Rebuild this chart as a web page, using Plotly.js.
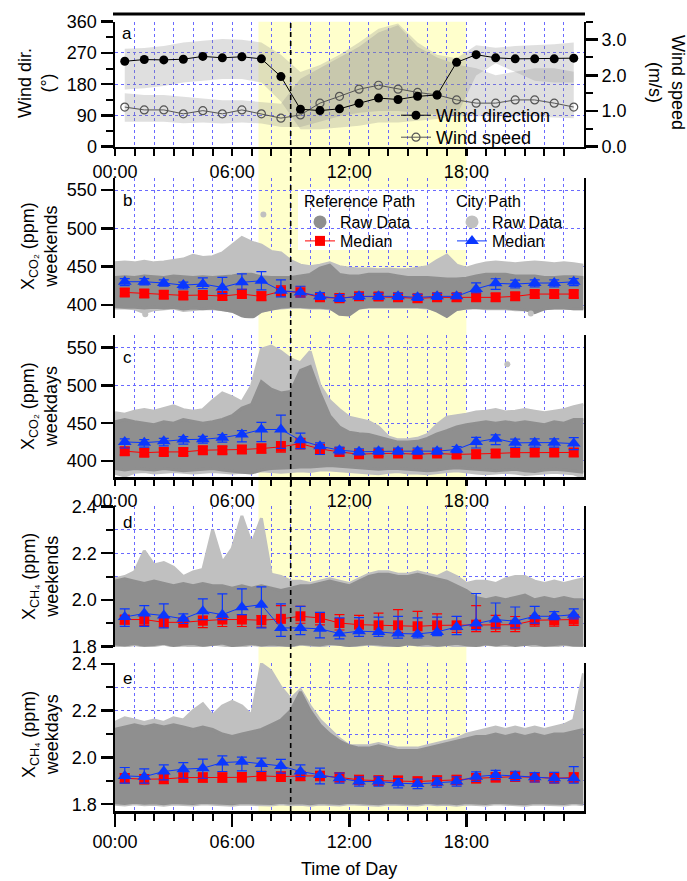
<!DOCTYPE html>
<html><head><meta charset="utf-8">
<script src="https://cdn.plot.ly/plotly-3.0.1.min.js"></script>
<style>html,body{margin:0;padding:0;background:#fff}#chart{width:687px;height:881px}</style>
</head><body><div id="chart"></div>
<script>
// ---------- data ----------
const hours = [0.5,1.5,2.5,3.5,4.5,5.5,6.5,7.5,8.5,9.5,10.5,11.5,12.5,13.5,14.5,15.5,16.5,17.5,18.5,19.5,20.5,21.5,22.5,23.5];
const envHours = [0,0.5,1,1.5,2,2.5,3,3.5,4,4.5,5,5.5,6,6.5,7,7.5,8,8.5,9,9.5,10,10.5,11,11.5,12,12.5,13,13.5,14,14.5,15,15.5,16,16.5,17,17.5,18,18.5,19,19.5,20,20.5,21,21.5,22,22.5,23,23.5,24];
const hourLabelVals = [0,6,12,18];
const hourLabels = ['00:00','06:00','12:00','18:00'];
const minorHours = [1,2,3,4,5,7,8,9,10,11,13,14,15,16,17,19,20,21,22,23];
const daylightStart = 7.35, daylightEnd = 18, refTime = 9;

// panel a: wind
const windDir   = [246,251,250,252,260,256,259,253,202,108,104,109,125,140,136,145,149,243,265,256,253,253,253,255];
const windSpeed = [1.11,1.03,1.03,0.92,1.01,0.92,1.03,0.92,0.80,0.89,1.22,1.41,1.61,1.72,1.61,1.52,1.45,1.31,1.22,1.22,1.31,1.31,1.22,1.11];
const dirBandUp  = [282,284,290,300,305,310,308,300,265,215,235,265,300,340,355,300,265,255,292,285,290,292,295,300];
const dirBandLow = [165,168,175,185,190,195,195,185,130,50,50,55,60,70,70,75,80,90,205,240,215,190,185,185];
const spdBandUp  = [1.50,1.45,1.45,1.40,1.35,1.30,1.30,1.25,1.20,1.9,2.2,2.5,2.8,3.2,3.4,2.8,2.5,2.3,2.2,2.0,2.1,2.2,2.2,2.1];
const spdBandLow = [0.70,0.70,0.70,0.66,0.68,0.65,0.68,0.65,0.55,0.55,0.70,0.85,0.95,1.0,1.0,0.95,0.9,0.85,0.85,0.85,0.85,0.85,0.82,0.8];

// panel b: XCO2 weekends
const bCityUp  = [455,456,455,457,455,456,458,460,465,462,463,468,478,488,482,478,470,468,458,452,450,452,455,450,448,447,447,446,447,446,446,448,450,458,465,452,448,452,455,456,455,454,455,456,455,454,455,454,452];
const bCityLow = [396,396,395,390,394,395,396,393,394,395,395,394,392,388,386,392,395,396,397,397,396,396,395,392,392,396,397,397,397,397,397,397,396,394,390,394,396,396,395,395,395,394,394,392,395,396,396,395,395];
const bRefUp   = [436,437,436,438,437,436,438,437,436,437,436,437,438,440,440,437,436,436,436,438,440,448,452,440,438,438,440,440,440,438,436,436,436,435,434,434,435,438,440,440,440,438,438,438,436,436,437,437,436];
const bRefLow  = [398,397,397,396,397,396,397,395,396,395,396,394,392,386,383,392,395,397,398,398,397,397,396,388,387,396,398,398,398,398,398,398,397,392,385,394,396,397,396,396,396,395,394,390,395,396,396,395,395];
const bOutX = [7.6,1.55,21.3], bOutY = [518,388,389];
const bRefMed  = [416.5,415,413.5,412.6,413,411.7,414.3,411.3,418,416.5,410,409,411.3,411,410,408.7,410,410,410,410,411.3,414.3,414.3,414.3];
const bRefErrP = [5,5,5,5,5,5,6,6,7,7,6,6,5,5,5,5,5,5,5,5,5,5,5,5];
const bRefErrM = [5,5,5,5,5,5,5,5,6,6,5,5,5,5,5,5,5,5,5,5,5,5,5,5];
const bCityMed  = [430.4,430.4,428.7,426,427.4,423,429.6,431.7,418.7,416.5,411.3,408.7,411.3,411.3,411.3,410,411.3,411.3,421,428.3,427.4,428.7,428.7,430.4];
const bCityErrP = [4,4,4,4,8,13,11,12,14,8,5,5,4,4,4,4,4,4,8,6,5,4,4,4];
const bCityErrM = [5,4,4,5,6,8,9,12,8,6,4,4,4,4,4,4,4,3,5,8,5,5,5,5];

// panel c: XCO2 weekdays
const cCityUp  = [464,462,466,468,466,470,473,468,466,468,480,490,485,478,500,548,552,545,535,530,545,500,480,468,458,455,452,445,432,428,428,430,435,448,458,460,462,465,466,468,465,466,468,466,464,466,468,472,475];
const cCityLow = [384,380,385,386,384,385,386,385,384,385,386,385,384,385,386,387,386,385,386,387,386,388,388,387,386,385,384,383,385,386,384,384,383,385,386,387,385,384,383,384,385,384,382,383,384,385,384,383,378];
const cRefUp   = [452,455,452,450,448,452,450,455,452,450,452,455,460,470,475,505,495,490,492,520,525,490,460,445,438,436,435,432,428,425,425,426,430,436,440,445,448,450,452,450,452,450,452,450,448,452,450,455,455];
const cRefLow  = [390,388,390,389,388,390,389,387,388,389,390,388,386,385,384,388,390,390,391,392,392,393,394,393,392,391,390,389,390,390,389,388,387,388,390,391,390,389,388,387,388,389,387,386,388,389,388,387,385];
const cOutX = [20.1], cOutY = [528];
const cRefMed  = [413,411,412,412,414.3,414.3,415.2,416.5,418.7,423,416,412,409,410,410,409,410,408.7,409,410,411,411.3,411.3,411.3];
const cRefErrP = [5,5,5,5,5,5,5,6,7,7,6,5,4,4,4,4,4,4,5,5,5,5,5,5];
const cRefErrM = [5,5,5,5,5,5,5,6,7,7,6,5,4,4,4,4,4,4,5,5,5,5,5,5];
const cCityMed  = [425.2,424.3,426,428.3,428.7,430.9,435.2,441.7,441.7,427.4,419.6,414.3,412.2,413,413,413,413,415.2,425.2,429.6,424,424.3,424.3,423];
const cCityErrP = [4,4,4,4,4,4,5,9.5,19,9.6,4.4,4,4,4,4,4,4,4,6,5,5,5,5,8];
const cCityErrM = [8,6,6,6,5,6,10,16,25,11,11,5,4,4,4,4,4,4,8,8,6,6,6,8];

// panel d: XCH4 weekends
const dCityUp  = [2.09,2.10,2.12,2.21,2.15,2.16,2.14,2.10,2.12,2.13,2.30,2.16,2.22,2.36,2.24,2.35,2.11,2.10,2.08,2.08,2.07,2.08,2.09,2.08,2.07,2.09,2.11,2.12,2.12,2.11,2.11,2.12,2.11,2.10,2.12,2.10,2.07,2.08,2.08,2.07,2.09,2.10,2.10,2.08,2.07,2.08,2.07,2.08,2.09];
const dCityLow = [1.805,1.80,1.808,1.80,1.803,1.81,1.80,1.806,1.80,1.802,1.81,1.805,1.80,1.80,1.808,1.803,1.80,1.806,1.80,1.81,1.805,1.80,1.808,1.81,1.80,1.804,1.81,1.806,1.80,1.803,1.81,1.806,1.80,1.802,1.808,1.80,1.805,1.80,1.809,1.804,1.80,1.806,1.81,1.80,1.805,1.80,1.808,1.803,1.80];
const dRefUp   = [2.08,2.09,2.08,2.07,2.08,2.07,2.06,2.07,2.06,2.07,2.06,2.06,2.05,2.06,2.05,2.06,2.05,2.04,2.05,2.06,2.06,2.07,2.08,2.07,2.06,2.08,2.10,2.11,2.11,2.10,2.10,2.11,2.10,2.09,2.08,2.06,2.04,2.01,2.00,2.01,2.00,2.01,2.02,2.00,2.01,2.00,2.01,2.00,2.00];
const dRefLow  = [1.81,1.806,1.812,1.805,1.808,1.813,1.804,1.81,1.812,1.805,1.808,1.814,1.803,1.809,1.812,1.806,1.81,1.807,1.804,1.812,1.81,1.806,1.813,1.81,1.804,1.808,1.812,1.81,1.806,1.803,1.811,1.807,1.812,1.805,1.808,1.813,1.807,1.804,1.811,1.806,1.812,1.804,1.808,1.812,1.805,1.807,1.811,1.806,1.804];
const dRefMed  = [1.915,1.915,1.903,1.903,1.91,1.915,1.915,1.912,1.918,1.929,1.922,1.9,1.893,1.89,1.89,1.886,1.89,1.89,1.893,1.893,1.893,1.912,1.912,1.915];
const dRefErrP = [0.015,0.02,0.02,0.015,0.02,0.02,0.02,0.02,0.057,0.043,0.021,0.036,0.04,0.053,0.068,0.064,0.049,0.038,0.082,0.04,0.035,0.02,0.02,0.02];
const dRefErrM = [0.02,0.025,0.02,0.02,0.03,0.03,0.03,0.03,0.05,0.03,0.03,0.03,0.03,0.03,0.03,0.03,0.03,0.03,0.03,0.03,0.03,0.025,0.025,0.025];
const dCityMed  = [1.926,1.941,1.932,1.918,1.951,1.936,1.968,1.979,1.879,1.879,1.875,1.855,1.865,1.862,1.855,1.853,1.862,1.883,1.898,1.915,1.908,1.929,1.929,1.936];
const dCityErrP = [0.035,0.034,0.05,0.021,0.053,0.089,0.079,0.076,0.103,0.093,0.071,0.067,0.058,0.063,0.074,0.069,0.063,0.046,0.129,0.071,0.061,0.043,0.02,0.025];
const dCityErrM = [0.04,0.055,0.053,0.02,0.036,0.021,0.032,0.1,0.036,0.029,0.039,0.023,0.022,0.019,0.02,0.017,0.016,0.033,0.026,0.036,0.029,0.029,0.014,0.018];

// panel e: XCH4 weekdays
const eCityUp  = [2.15,2.17,2.16,2.15,2.16,2.15,2.17,2.16,2.20,2.23,2.18,2.22,2.24,2.22,2.18,2.40,2.37,2.30,2.25,2.29,2.22,2.16,2.12,2.08,2.05,2.05,2.05,2.06,2.05,2.04,2.04,2.04,2.05,2.06,2.07,2.08,2.10,2.11,2.12,2.13,2.12,2.13,2.12,2.13,2.12,2.13,2.14,2.16,2.36];
const eCityLow = [1.80,1.797,1.802,1.798,1.80,1.796,1.801,1.799,1.797,1.802,1.80,1.798,1.796,1.801,1.799,1.80,1.797,1.802,1.798,1.80,1.796,1.801,1.799,1.797,1.802,1.80,1.798,1.796,1.801,1.799,1.80,1.797,1.802,1.798,1.80,1.796,1.801,1.799,1.797,1.802,1.80,1.798,1.796,1.801,1.799,1.80,1.797,1.802,1.798];
const eRefUp   = [2.12,2.13,2.14,2.13,2.14,2.13,2.14,2.13,2.12,2.13,2.12,2.10,2.09,2.10,2.11,2.12,2.14,2.16,2.20,2.28,2.20,2.14,2.10,2.07,2.05,2.04,2.04,2.05,2.04,2.03,2.03,2.03,2.04,2.05,2.06,2.07,2.08,2.09,2.09,2.10,2.09,2.10,2.09,2.10,2.09,2.10,2.10,2.11,2.12];
const eRefLow  = [1.806,1.803,1.808,1.804,1.806,1.802,1.807,1.805,1.803,1.808,1.806,1.804,1.802,1.807,1.805,1.806,1.803,1.808,1.804,1.806,1.802,1.807,1.805,1.803,1.808,1.806,1.804,1.802,1.807,1.805,1.806,1.803,1.808,1.804,1.806,1.802,1.807,1.805,1.803,1.808,1.806,1.804,1.802,1.807,1.805,1.806,1.803,1.808,1.804];
const eRefMed  = [1.911,1.907,1.908,1.914,1.914,1.914,1.915,1.921,1.918,1.921,1.921,1.915,1.904,1.901,1.9,1.897,1.901,1.904,1.911,1.915,1.918,1.915,1.911,1.914];
const eRefErrP = [0.02,0.02,0.02,0.02,0.02,0.02,0.02,0.02,0.02,0.02,0.02,0.02,0.02,0.02,0.02,0.02,0.02,0.02,0.02,0.02,0.02,0.02,0.02,0.02];
const eRefErrM = [0.02,0.02,0.02,0.02,0.02,0.02,0.02,0.02,0.02,0.02,0.02,0.02,0.02,0.02,0.02,0.02,0.02,0.02,0.02,0.02,0.02,0.02,0.02,0.02];
const eCityMed  = [1.921,1.918,1.94,1.95,1.954,1.978,1.982,1.972,1.964,1.94,1.925,1.911,1.897,1.897,1.89,1.887,1.893,1.897,1.918,1.925,1.921,1.915,1.911,1.911];
const eCityErrP = [0.036,0.033,0.028,0.028,0.039,0.029,0.019,0.025,0.028,0.028,0.029,0.022,0.02,0.02,0.02,0.02,0.02,0.02,0.02,0.02,0.02,0.02,0.025,0.05];
const eCityErrM = [0.031,0.028,0.036,0.039,0.043,0.038,0.039,0.032,0.031,0.022,0.038,0.021,0.02,0.02,0.02,0.02,0.02,0.02,0.02,0.02,0.02,0.02,0.02,0.021];

// ---------- styles ----------
const FONT = 'Liberation Sans, Arial, sans-serif';
const gridC = 'rgb(105,105,255)';
const darkG = 'rgb(143,143,143)';
const lightG = 'rgb(192,192,192)';
const RED = 'rgb(255,0,0)';
const BLUE = 'rgb(10,55,255)';
const bandC = 'rgba(140,140,140,0.28)';
const W = 687, H = 881;
const px2x = p => p / W;
const px2y = p => 1 - p / H;

const traces = [];

// panel a bands and lines
traces.push({x: hours, y: dirBandLow, xaxis:'x', yaxis:'y', mode:'lines', line:{width:0, color:bandC}, showlegend:false, hoverinfo:'skip'});
traces.push({x: hours, y: dirBandUp, xaxis:'x', yaxis:'y', mode:'lines', line:{width:0, color:bandC}, fill:'tonexty', fillcolor:bandC, showlegend:false, hoverinfo:'skip'});
traces.push({x: hours, y: spdBandLow, xaxis:'x', yaxis:'y2', mode:'lines', line:{width:0, color:bandC}, showlegend:false, hoverinfo:'skip'});
traces.push({x: hours, y: spdBandUp, xaxis:'x', yaxis:'y2', mode:'lines', line:{width:0, color:bandC}, fill:'tonexty', fillcolor:bandC, showlegend:false, hoverinfo:'skip'});
traces.push({x: hours, y: windSpeed, xaxis:'x', yaxis:'y2', mode:'lines+markers', name:'Wind speed', legend:'legend4',
  line:{color:'#555', width:1}, marker:{symbol:'circle-open', size:8, color:'#555', line:{width:1.2}}});
traces.push({x: hours, y: windDir, xaxis:'x', yaxis:'y7', mode:'lines+markers', name:'Wind direction', legend:'legend',
  line:{color:'#000', width:1}, marker:{symbol:'circle', size:9, color:'#000'}});

function envelope(up, low, color, xa, ya) {
  traces.push({x: envHours, y: low, xaxis:xa, yaxis:ya, mode:'lines', line:{width:3, color:color}, showlegend:false, hoverinfo:'skip'});
  traces.push({x: envHours, y: up, xaxis:xa, yaxis:ya, mode:'lines', line:{width:3, color:color}, fill:'tonexty', fillcolor:color, showlegend:false, hoverinfo:'skip'});
}
function outliers(xs, ys, color, xa, ya) {
  traces.push({x: xs, y: ys, xaxis:xa, yaxis:ya, mode:'markers', marker:{size:6, color:color}, showlegend:false, hoverinfo:'skip'});
}
function median(y, ep, em, color, symbol, size, xa, ya, show, legendId) {
  traces.push({x: hours, y: y, xaxis:xa, yaxis:ya, mode:'lines+markers', name:'Median', showlegend:show, legend:legendId,
    line:{color:color, width:1}, marker:{symbol:symbol, size:size, color:color},
    error_y:{type:'data', symmetric:false, array:ep, arrayminus:em, color:color, thickness:1.2, width:5}});
}

const panels = [
  {xa:'x2', ya:'y3', cu:bCityUp, cl:bCityLow, ru:bRefUp, rl:bRefLow, rm:bRefMed, rp:bRefErrP, rmm:bRefErrM, cm:bCityMed, cp:bCityErrP, cmm:bCityErrM, ox:bOutX, oy:bOutY, leg:true},
  {xa:'x3', ya:'y4', cu:cCityUp, cl:cCityLow, ru:cRefUp, rl:cRefLow, rm:cRefMed, rp:cRefErrP, rmm:cRefErrM, cm:cCityMed, cp:cCityErrP, cmm:cCityErrM, ox:cOutX, oy:cOutY, leg:false},
  {xa:'x4', ya:'y5', cu:dCityUp, cl:dCityLow, ru:dRefUp, rl:dRefLow, rm:dRefMed, rp:dRefErrP, rmm:dRefErrM, cm:dCityMed, cp:dCityErrP, cmm:dCityErrM, ox:[], oy:[], leg:false},
  {xa:'x5', ya:'y6', cu:eCityUp, cl:eCityLow, ru:eRefUp, rl:eRefLow, rm:eRefMed, rp:eRefErrP, rmm:eRefErrM, cm:eCityMed, cp:eCityErrP, cmm:eCityErrM, ox:[], oy:[], leg:false}
];
panels.forEach(p => {
  envelope(p.cu, p.cl, lightG, p.xa, p.ya);
  envelope(p.ru, p.rl, darkG, p.xa, p.ya);
  if (p.ox.length) outliers(p.ox, p.oy, lightG, p.xa, p.ya);
  median(p.rm, p.rp, p.rmm, RED, 'square', 10, p.xa, p.ya, p.leg, 'legend5');
  median(p.cm, p.cp, p.cmm, BLUE, 'triangle-up', 12, p.xa, p.ya, p.leg, 'legend6');
});
// legend-only raw-data symbols
traces.push({x:[null], y:[null], xaxis:'x2', yaxis:'y3', mode:'markers', name:'Raw Data', legend:'legend2', marker:{size:13, color:darkG}});
traces.push({x:[null], y:[null], xaxis:'x2', yaxis:'y3', mode:'markers', name:'Raw Data', legend:'legend3', marker:{size:13, color:lightG}});

// ---------- axes ----------
const xDom = [px2x(115), px2x(583.5)];
function xAxis(anchor, shown, ticklen) {
  const ax = {domain:xDom, range:[0,24], anchor:anchor, fixedrange:true,
    tickmode:'array', tickvals:hourLabelVals, ticktext:hourLabels,
    showgrid:true, gridcolor:gridC, griddash:'dot', gridwidth:1, zeroline:false,
    tickfont:{size:18, color:'#000'},
    minor:{tickmode:'array', tickvals:minorHours, showgrid:true, gridcolor:gridC, griddash:'dot', gridwidth:1,
      ticks: shown ? 'outside' : '', ticklen:Math.min(7, ticklen), tickwidth:2, tickcolor:'#000'}};
  if (shown) Object.assign(ax, {showline:true, linewidth:2.5, linecolor:'#000', ticks:'outside', ticklen:ticklen, tickwidth:2.5, tickcolor:'#000', showticklabels:true});
  else Object.assign(ax, {showline:false, ticks:'', showticklabels:false});
  return ax;
}
function yAxis(anchor, dom, range, vals, txt, minorD, minorGrid) {
  return {domain:[px2y(dom[1]), px2y(dom[0])], range:range, anchor:anchor, fixedrange:true,
    tickmode:'array', tickvals:vals, ticktext:txt,
    showline:true, linewidth:2.5, linecolor:'#000', mirror:true,
    ticks:'outside', ticklen:12, tickwidth:2.5, tickcolor:'#000',
    showgrid:true, gridcolor:gridC, griddash:'dot', gridwidth:1, zeroline:false,
    tickfont:{size:18, color:'#000'},
    minor: minorD ? {tickmode:'linear', tick0:0, dtick:minorD, ticks:'outside', ticklen:7, tickwidth:2, tickcolor:'#000', showgrid:minorGrid, gridcolor:gridC, griddash:'dot', gridwidth:1} : undefined};
}
function leg(xp, yp, size) {
  return {x:px2x(xp), y:px2y(yp), xanchor:'left', yanchor:'top', bgcolor:'rgba(0,0,0,0)', font:{size:size}, traceorder:'normal'};
}
function ann(text, xp, yp, size, angle, xanchor) {
  return {text:text, x:px2x(xp), y:px2y(yp), xref:'paper', yref:'paper', showarrow:false, textangle:angle || 0,
    xanchor:xanchor || 'center', yanchor:'middle', font:{size:size}};
}

const layout = {
  width:W, height:H, margin:{l:0,r:0,t:0,b:0},
  paper_bgcolor:'#fff', plot_bgcolor:'rgba(0,0,0,0)',
  font:{family:FONT, size:18, color:'#000'},
  xaxis: xAxis('y', true, 7),
  xaxis2: xAxis('y3', false, 0),
  xaxis3: xAxis('y4', true, 6),
  xaxis4: xAxis('y5', false, 0),
  xaxis5: xAxis('y6', true, 13),
  yaxis: Object.assign(yAxis('x', [21.7,146.7], [0,360], [0,90,180,270,360], ['0','90','180','270','360'], 45, false), {mirror:false}),
  yaxis2: {overlaying:'y', side:'right', anchor:'x', range:[0,3.5], fixedrange:true,
    tickmode:'array', tickvals:[0,1,2,3], ticktext:['0.0','1.0','2.0','3.0'],
    showline:true, linewidth:2.5, linecolor:'#000', ticks:'outside', ticklen:12, tickwidth:2.5, tickcolor:'#000',
    showgrid:false, zeroline:false, tickfont:{size:18, color:'#000'},
    minor:{tickmode:'linear', tick0:0, dtick:0.5, ticks:'outside', ticklen:7, tickwidth:2, tickcolor:'#000', showgrid:false}},
  yaxis7: {overlaying:'y', anchor:'x', range:[0,360], visible:false, fixedrange:true},
  yaxis3: yAxis('x2', [178.3,318.3], [382.7,565.3], [400,450,500,550], ['400','450','500','550'], 0, false),
  yaxis4: yAxis('x3', [335,477], [378.8,566.8], [400,450,500,550], ['400','450','500','550'], 0, false),
  yaxis5: yAxis('x4', [506,647], [1.797,2.403], [1.8,2.0,2.2,2.4], ['1.8','2.0','2.2','2.4'], 0.1, true),
  yaxis6: yAxis('x5', [663,811], [1.771,2.404], [1.8,2.0,2.2,2.4], ['1.8','2.0','2.2','2.4'], 0.1, true),
  legend:  leg(396, 97, 18),
  legend4: leg(396, 119, 18),
  legend2: leg(300, 205, 16),
  legend3: leg(452, 205, 16),
  legend5: leg(300, 224, 16),
  legend6: leg(452, 224, 16),
  shapes: [
    {type:'rect', layer:'below', xref:'x', yref:'paper', x0:daylightStart, x1:daylightEnd, y0:px2y(811), y1:px2y(21.7), fillcolor:'rgb(255,255,204)', line:{width:0}},
    {type:'rect', layer:'below', xref:'paper', yref:'paper', x0:px2x(298), x1:px2x(574), y0:px2y(250), y1:px2y(189), fillcolor:'#fff', line:{width:0}},
    {type:'line', layer:'above', xref:'x', yref:'paper', x0:refTime, x1:refTime, y0:px2y(811), y1:px2y(21.7), line:{color:'#000', width:1.6, dash:'5px,4px'}},
    {type:'line', layer:'above', xref:'paper', yref:'paper', x0:px2x(113), x1:px2x(585), y0:px2y(14), y1:px2y(14), line:{color:'#000', width:3}}
  ],
  annotations: [
    ann('a', 127, 33, 17), ann('b', 127, 200, 17), ann('c', 127, 357, 17), ann('d', 127, 522, 17), ann('e', 127, 678, 17),
    ann('Wind dir.<br>(°)', 37, 83, 18, -90),
    ann('Wind speed<br>(m/s)', 667, 82, 18, 90),
    ann('X<sub>CO₂</sub> (ppm)<br>weekends', 40, 246, 18, -90),
    ann('X<sub>CO₂</sub> (ppm)<br>weekdays', 40, 406, 18, -90),
    ann('X<sub>CH₄</sub> (ppm)<br>weekends', 40, 577, 18, -90),
    ann('X<sub>CH₄</sub> (ppm)<br>weekdays', 40, 735, 18, -90),
    ann('Time of Day', 349, 869, 18),
    ann('Reference Path', 302, 201, 16, 0, 'left'),
    ann('City Path', 454, 201, 16, 0, 'left')
  ]
};

Plotly.newPlot('chart', traces, layout, {staticPlot:true, displayModeBar:false});
</script></body></html>
